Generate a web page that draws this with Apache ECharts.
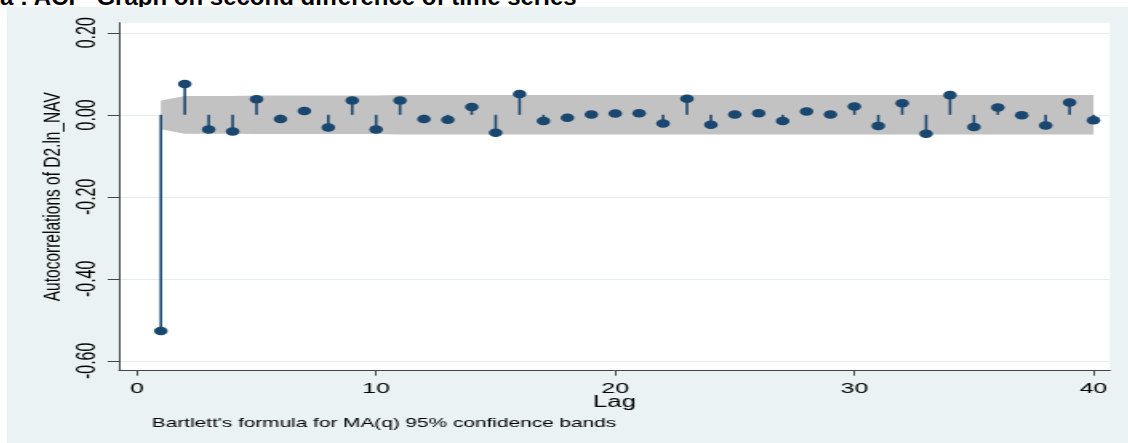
<!DOCTYPE html>
<html>
<head>
<meta charset="utf-8">
<script src="https://cdn.jsdelivr.net/npm/echarts@6/dist/echarts.min.js"></script>
<style>
  html, body { margin: 0; padding: 0; background: #ffffff; width: 1128px; height: 443px; overflow: hidden; position: relative; }
  #caption { position: absolute; left: 0; top: -15px; font: bold 24px "Liberation Sans", Arial, sans-serif; line-height: 24px; color: #000; white-space: pre; }
  /* the graph is laid out narrow and stretched horizontally, as it sits in the document */
  #chart { position: absolute; left: 7px; top: 7px; width: 701px; height: 436px; transform: scaleX(1.6); transform-origin: 0 0; }
</style>
</head>
<body>
<div id="caption">a : ACF  Graph on second difference of time series</div>
<div id="chart"></div>
<script>
// Lags and sample autocorrelations of D2.ln_NAV
const lags = [1, 2, 3, 4, 5, 6, 7, 8, 9, 10,
              11, 12, 13, 14, 15, 16, 17, 18, 19, 20,
              21, 22, 23, 24, 25, 26, 27, 28, 29, 30,
              31, 32, 33, 34, 35, 36, 37, 38, 39, 40];
const acf = [-0.527, 0.075, -0.036, -0.041, 0.038, -0.010, 0.009, -0.031, 0.035, -0.036,
             0.035, -0.010, -0.012, 0.019, -0.044, 0.051, -0.015, -0.007, 0.001, 0.003,
             0.004, -0.021, 0.039, -0.024, 0.001, 0.004, -0.015, 0.008, 0.001, 0.020,
             -0.027, 0.028, -0.046, 0.048, -0.030, 0.018, -0.001, -0.026, 0.030, -0.013];
// Half-width of the Bartlett 95% confidence band at each lag
const band = [0.035, 0.046, 0.046, 0.046, 0.047, 0.047, 0.047, 0.047, 0.047, 0.047,
              0.048, 0.048, 0.048, 0.048, 0.048, 0.048, 0.048, 0.048, 0.048, 0.048,
              0.048, 0.048, 0.048, 0.048, 0.048, 0.048, 0.048, 0.048, 0.048, 0.048,
              0.048, 0.048, 0.048, 0.048, 0.048, 0.048, 0.048, 0.048, 0.048, 0.048];
const xTicks = [0, 10, 20, 30, 40];
const yTicks = [-0.6, -0.4, -0.2, 0, 0.2];

const NAVY = '#1a476f';
const FONT = '"Liberation Sans", Arial, sans-serif';

// Confidence band: one polygon, upper edge left to right, lower edge back
function renderBand(params, api) {
  if (params.dataIndex !== 0) return;
  const pts = [];
  for (let i = 0; i < lags.length; i++) pts.push(api.coord([lags[i], band[i]]));
  for (let i = lags.length - 1; i >= 0; i--) pts.push(api.coord([lags[i], -band[i]]));
  return { type: 'polygon', shape: { points: pts }, style: { fill: '#c2c2c2' } };
}

const chart = echarts.init(document.getElementById('chart'), null, { renderer: 'canvas' });
chart.setOption({
  backgroundColor: '#eaf2f3',
  animation: false,
  grid: { left: 70, right: 11.6, top: 15.7, bottom: 72.3, show: true, backgroundColor: '#ffffff', borderWidth: 0 },
  xAxis: {
    type: 'value', min: -0.753, max: 40.69,
    name: 'Lag', nameLocation: 'middle', nameGap: 24, nameMoveOverlap: false,
    nameTextStyle: { color: '#000', fontSize: 16, fontFamily: FONT },
    axisLine: { show: true, onZero: false, lineStyle: { color: '#444', width: 1 } },
    axisTick: { show: true, customValues: xTicks, length: 5, lineStyle: { color: '#444' } },
    axisLabel: { customValues: xTicks, margin: 10, color: '#000', fontSize: 15.5, fontFamily: FONT },
    splitLine: { show: false }
  },
  yAxis: {
    type: 'value', min: -0.624, max: 0.2246,
    name: 'Autocorrelations of D2.ln_NAV', nameLocation: 'middle', nameGap: 33, nameRotate: 90, nameMoveOverlap: false,
    nameTextStyle: { color: '#000', fontSize: 15.5, fontFamily: FONT },
    axisLine: { show: true, onZero: false, lineStyle: { color: '#444', width: 1 } },
    axisTick: { show: true, customValues: yTicks, length: 7, lineStyle: { color: '#444' } },
    axisLabel: { customValues: yTicks, rotate: 90, margin: 11, color: '#000', fontSize: 16, fontFamily: FONT,
                 formatter: v => v.toFixed(2) },
    splitLine: { show: true, lineStyle: { color: '#e3ecee', width: 1 } }
  },
  series: [
    {
      name: 'band', type: 'custom', renderItem: renderBand,
      data: [[lags[0], 0]], silent: true, z: 1
    },
    {
      name: 'stems', type: 'bar', barWidth: 1.6,
      data: lags.map((l, i) => [l, acf[i]]),
      itemStyle: { color: NAVY }, z: 3
    },
    {
      name: 'acf', type: 'scatter', symbol: 'circle', symbolSize: 8.5,
      data: lags.map((l, i) => [l, acf[i]]),
      itemStyle: { color: NAVY, opacity: 1 }, z: 4
    }
  ],
  graphic: [{
    type: 'text', left: 90.6, top: 410,
    style: { text: "Bartlett's formula for MA(q) 95% confidence bands", fill: '#000', font: '13px ' + FONT }
  }]
});
</script>
</body>
</html>
